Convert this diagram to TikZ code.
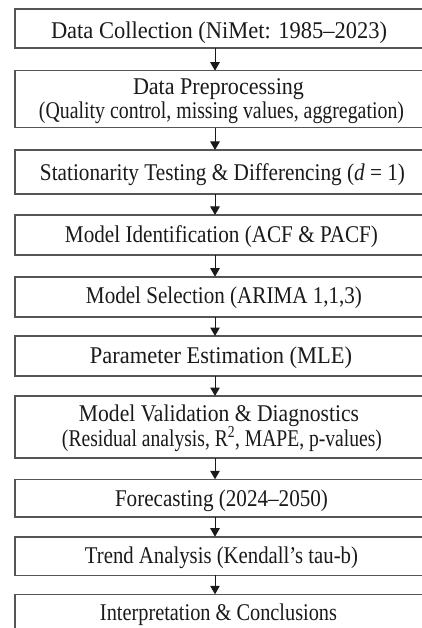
\documentclass[tikz,border=0pt]{standalone}
\usepackage{fontspec}
\usepackage{graphicx}
\setmainfont{Liberation Serif}
\usetikzlibrary{arrows.meta}

\definecolor{edgegray}{HTML}{555555}
\definecolor{inkblack}{HTML}{1A1A1A}

% a flow step box: name, top edge, bottom edge (in px-like units)
\newcommand\stepframe[3]{%
  \node[stepbox, minimum height={(#3-#2)*1pt}] (#1) at (221,{(#2+#3)/2}) {};}
% one line of step text: name, x centre, baseline, set width, text
\newcommand\steplabel[5]{%
  \node[steptext] (#1) at (#2,#3) {\resizebox{#4pt}{\height}{#5}};}

\begin{document}
\begin{tikzpicture}[x=1pt,y=-1pt,
  stepbox/.style={draw=edgegray, line width=1.6pt, fill=white,
    minimum width=412.6pt, inner sep=0pt, outer sep=0pt, rectangle},
  steptext/.style={anchor=base, text=inkblack, inner sep=0pt,
    font=\fontsize{24}{28}\selectfont},
  flowarrow/.style={draw=inkblack, line width=1pt,
    -{Triangle[width=9.5pt,length=8.5pt]}}]

\useasboundingbox (0,0) rectangle (422,628);
\clip (0,0) rectangle (422,628);
\fill[white] (0,0) rectangle (422,628);

% boxes
\stepframe{b1}{9.3}{48.3}
\stepframe{b2}{70.7}{127.7}
\stepframe{b3}{150}{194}
\stepframe{b4}{215}{255}
\stepframe{b5}{276.7}{316.7}
\stepframe{b6}{336}{376}
\stepframe{b7}{396}{457.7}
\stepframe{b8}{479.3}{516.7}
\stepframe{b9}{536.7}{575.3}
\stepframe{b10}{594.3}{640}

% labels
\steplabel{t1}{219}{38.3}{336}{Data Collection (NiMet: 1985–2023)}
\steplabel{t2a}{218.5}{94.3}{171}{Data Preprocessing}
\steplabel{t2b}{221.5}{119}{365}{(Quality control, missing values, aggregation)}
\steplabel{t3}{222.5}{180.7}{365}{Stationarity Testing \& Differencing (\textit{d} = 1)}
\steplabel{t4}{221.5}{242.3}{313}{Model Identification (ACF \& PACF)}
\steplabel{t5}{224}{303.3}{276}{Model Selection (ARIMA 1,1,3)}
\steplabel{t6}{221}{363.3}{262}{Parameter Estimation (MLE)}
\steplabel{t7a}{219}{421.7}{280}{Model Validation \& Diagnostics}
\steplabel{t7b}{222}{446.7}{320}{(Residual analysis, R\textsuperscript{2}, MAPE, p-values)}
\steplabel{t8}{221.5}{506}{213}{Forecasting (2024–2050)}
\steplabel{t9}{221.5}{563.3}{273}{Trend Analysis (Kendall’s tau-b)}
\steplabel{t10}{218.5}{620}{237}{Interpretation \& Conclusions}

% connectors
\foreach \a/\b in {b1/b2,b2/b3,b3/b4,b4/b5,b5/b6,b6/b7,b7/b8,b8/b9,b9/b10}
  \draw[flowarrow] ([xshift=-6pt]\a.south) -- ([xshift=-6pt]\b.north);

\end{tikzpicture}
\end{document}
